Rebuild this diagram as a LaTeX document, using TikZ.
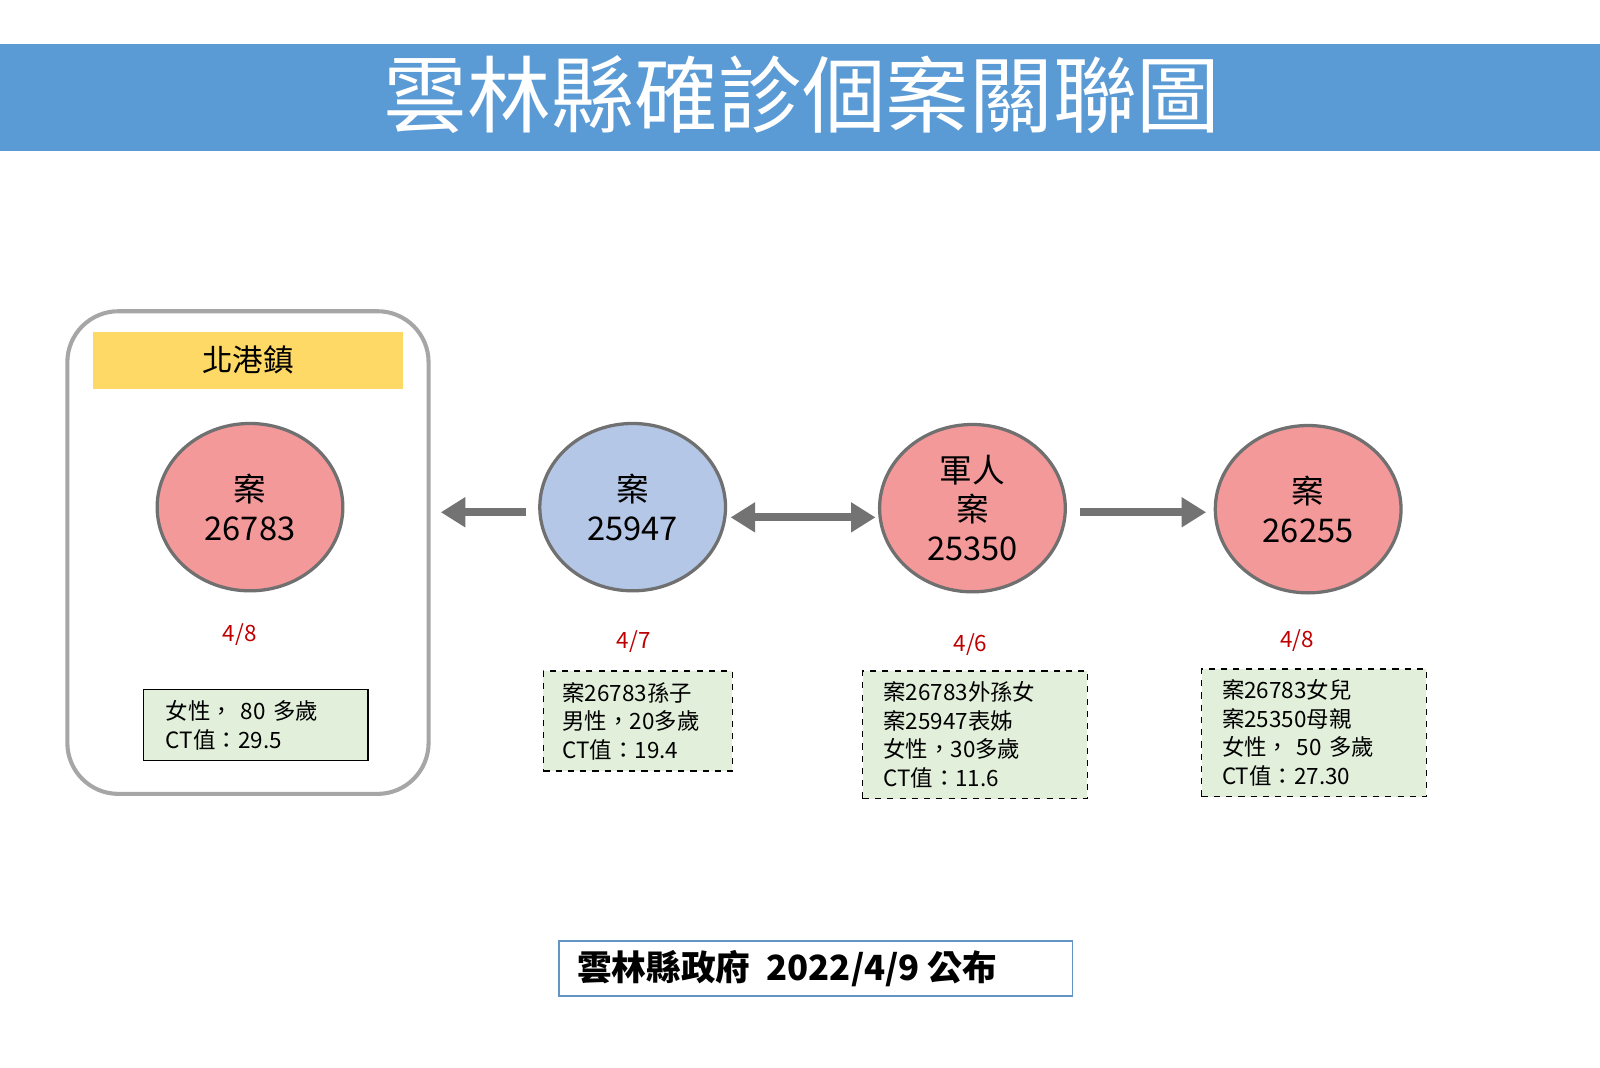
\documentclass[tikz,border=0pt]{standalone}
\usepackage{fontspec}
\setmainfont{Noto Sans CJK TC}
\usetikzlibrary{arrows.meta,shapes.geometric}
\definecolor{barblue}{HTML}{5B9BD5}
\definecolor{pinkc}{HTML}{F4999A}
\definecolor{bluec}{HTML}{B4C7E7}
\definecolor{yel}{HTML}{FFD966}
\definecolor{grn}{HTML}{E2EFDA}
\definecolor{edgeg}{HTML}{707070}
\definecolor{redt}{HTML}{C00000}
\tikzset{
 case/.style={ellipse,draw=edgeg,line width=1.6pt,minimum width=91pt,minimum height=82pt,align=center,font=\fontsize{16}{19}\selectfont,inner sep=0pt},
 info/.style={draw=black,fill=grn,line width=0.6pt,align=left,font=\fontsize{11}{14}\selectfont,anchor=north west,inner sep=0pt},
 infod/.style={info,dashed},
 date/.style={text=redt,font=\fontsize{11}{13}\selectfont},
 garrow/.style={draw=gray!90!black,line width=4pt,-{Triangle[length=12pt,width=14pt]}},
}
\begin{document}
\begin{tikzpicture}[x=0.5pt,y=-0.5pt]
\useasboundingbox (0,0) rectangle (1568,1046);
\fill[white] (0,0) rectangle (1568,1046);
\fill[barblue] (0,43) rectangle (1568,148);
\node[text=white,font=\fontsize{41}{45}\selectfont] (title) at (786,93) {雲林縣確診個案關聯圖};
\draw[gray!70,line width=2pt,rounded corners=25pt] (66,305) rectangle (420,778);
\node[fill=yel,minimum width=152pt,minimum height=28pt,font=\fontsize{15}{18}\selectfont,inner sep=0pt] (town) at (243,353) {北港鎮};
\node[case,fill=pinkc] (c1) at (245,497) {案\\26783};
\node[case,fill=bluec] (c2) at (620,497) {案\\25947};
\node[case,fill=pinkc] (c3) at (953,498) {軍人\\案\\25350};
\node[case,fill=pinkc] (c4) at (1282,499) {案\\26255};
\coordinate (a1s) at (515,502); \coordinate (a1e) at (432,502);
\draw[garrow] (a1s) -- (a1e);
\coordinate (a2s) at (716,507); \coordinate (a2e) at (858,507);
\draw[garrow,{Triangle[length=12pt,width=14pt]}-{Triangle[length=12pt,width=14pt]}] (a2s) -- (a2e);
\coordinate (a3s) at (1058,502); \coordinate (a3e) at (1182,502);
\draw[garrow] (a3s) -- (a3e);
\node[date] (d1) at (235,622) {4/8};
\node[date] (d2) at (621,629) {4/7};
\node[date] (d3) at (951,632) {4/6};
\node[date] (d4) at (1271,628) {4/8};
\node[info,minimum width=110pt,minimum height=35pt,text width=104pt] (i1) at (140,675) {\hspace*{8pt}女性， 80 多歲\\\hspace*{8pt}CT值：29.5};
\node[infod,minimum width=92.5pt,minimum height=49pt,text width=88pt] (i2) at (532,657) {\hspace*{7pt}案26783孫子\\\hspace*{7pt}男性，20多歲\\\hspace*{7pt}CT值：19.4};
\node[infod,minimum width=110pt,minimum height=62.5pt,text width=104pt] (i3) at (845,657) {\hspace*{7pt}案26783外孫女\\\hspace*{7pt}案25947表姊\\\hspace*{7pt}女性，30多歲\\\hspace*{7pt}CT值：11.6};
\node[infod,minimum width=110pt,minimum height=62.5pt,text width=104pt] (i4) at (1177,655) {\hspace*{7pt}案26783女兒\\\hspace*{7pt}案25350母親\\\hspace*{7pt}女性， 50 多歲\\\hspace*{7pt}CT值：27.30};
\node[draw=barblue!80!gray,line width=0.8pt,minimum width=251.5pt,minimum height=27pt,font=\bfseries\fontsize{17}{20}\selectfont,inner sep=0pt] (foot) at (799.5,949) {\hspace*{-28pt}雲林縣政府\ \ 2022/4/9 公布};
\end{tikzpicture}
\end{document}
